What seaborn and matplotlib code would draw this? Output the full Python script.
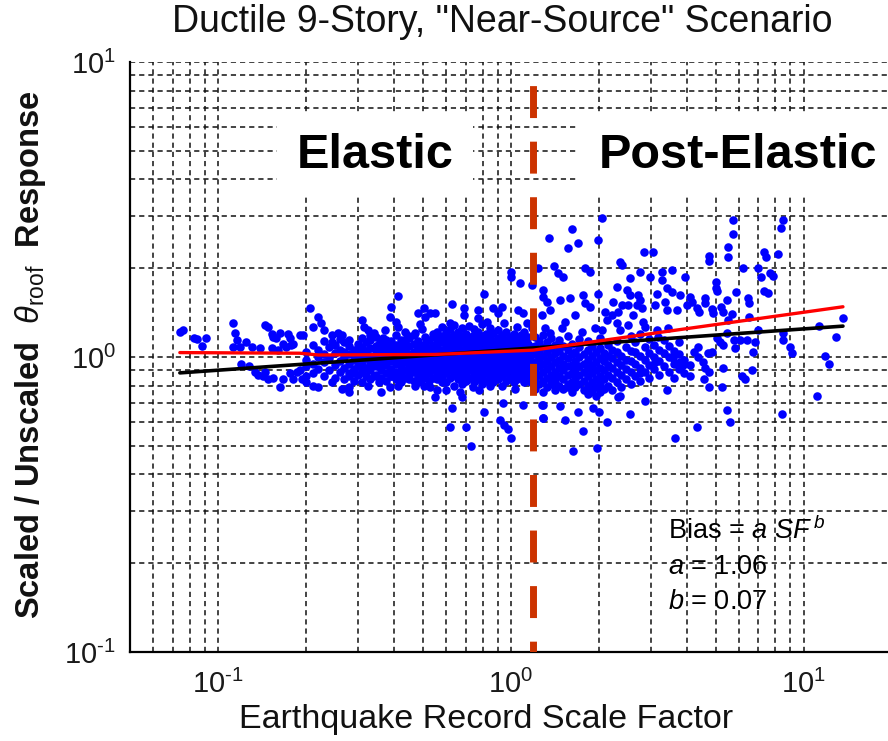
import matplotlib
matplotlib.use("Agg")
import matplotlib.pyplot as plt
from matplotlib.ticker import LogLocator, NullFormatter, FuncFormatter
import numpy as np
import pandas as pd
import seaborn as sns

# (scale factor, scaled/unscaled roof-drift ratio) for records scaled below the yield level
elastic_sparse = [
    (0.074, 1.22), (0.076, 1.23), (0.083, 1.16), (0.085, 1.15), (0.091, 1.16), (0.088, 1.09),
    (0.112, 1.30), (0.114, 1.21), (0.116, 1.14), (0.112, 1.08), (0.119, 1.08), (0.120, 0.95),
    (0.124, 1.12), (0.130, 1.08), (0.127, 0.93), (0.145, 1.28), (0.148, 1.26), (0.139, 1.07),
    (0.153, 1.20), (0.157, 1.16), (0.163, 1.21), (0.167, 1.11), (0.153, 1.07), (0.160, 1.06),
    (0.154, 1.17), (0.170, 1.08), (0.134, 0.89), (0.137, 0.87), (0.142, 0.86), (0.145, 0.89),
    (0.154, 0.85), (0.148, 0.84), (0.163, 0.79), (0.167, 0.84), (0.173, 1.20), (0.176, 1.16),
    (0.178, 1.10), (0.180, 1.11), (0.176, 0.88), (0.180, 0.84), (0.186, 0.89), (0.190, 1.19),
    (0.193, 0.84),
    (0.206, 1.47), (0.219, 1.37), (0.211, 1.26), (0.195, 1.19), (0.225, 1.30), (0.230, 1.23),
    (0.245, 1.19), (0.245, 1.12), (0.256, 1.21), (0.265, 1.19), (0.270, 1.12), (0.310, 1.33),
    (0.315, 1.26), (0.325, 1.23), (0.330, 1.19), (0.340, 1.21), (0.385, 1.37), (0.390, 1.48),
    (0.410, 1.61), (0.405, 1.31), (0.410, 1.26), (0.480, 1.41), (0.505, 1.47), (0.510, 1.37),
    (0.490, 1.29), (0.470, 1.21), (0.440, 1.19), (0.370, 1.23), (0.365, 1.16), (0.375, 1.14),
    (0.355, 1.11), (0.550, 1.17), (0.530, 1.41),
    (0.190, 0.90), (0.200, 0.86), (0.200, 0.82), (0.210, 0.80), (0.220, 0.79), (0.245, 0.82),
    (0.265, 0.78), (0.280, 0.76), (0.280, 0.79), (0.280, 0.86), (0.290, 0.88), (0.305, 0.95),
    (0.310, 0.90), (0.325, 0.80), (0.340, 0.86), (0.355, 0.82), (0.360, 0.76), (0.385, 0.79),
    (0.390, 0.86), (0.410, 0.80), (0.420, 0.86), (0.450, 0.84), (0.470, 0.80), (0.480, 0.82),
    (0.505, 0.80), (0.530, 0.79), (0.550, 0.73), (0.560, 0.77), (0.355, 0.95),
    (1.00, 1.94), (1.00, 1.87), (1.07, 1.78), (1.18, 1.75), (0.81, 1.63), (0.63, 1.51),
    (0.69, 1.47), (0.77, 1.44), (0.87, 1.47), (0.93, 1.48), (0.90, 1.41), (1.06, 1.44),
    (1.10, 1.41), (0.55, 1.41), (0.62, 1.30), (0.69, 1.39), (0.77, 1.36), (0.83, 1.31),
    (0.95, 1.30), (1.13, 1.30), (1.18, 1.25),
    (0.58, 0.82), (0.60, 0.77), (0.63, 0.67), (0.62, 0.58), (0.67, 0.76), (0.68, 0.73),
    (0.70, 0.58), (0.73, 0.50), (0.74, 0.79), (0.78, 0.77), (0.81, 0.65), (0.85, 0.80),
    (0.94, 0.70), (0.92, 0.61), (0.95, 0.59), (0.98, 0.57), (1.00, 0.53), (1.10, 0.69),
    (1.11, 0.82), (1.03, 0.78), (0.56, 0.99),
]

# dense band of elastic records around a ratio of one
elastic_core = [
    (0.20, 0.93), (0.20, 0.98), (0.20, 1.04),
    (0.21, 0.88), (0.21, 0.95), (0.21, 1.10),
    (0.22, 0.91), (0.22, 1.00), (0.22, 1.06),
    (0.23, 0.86), (0.23, 0.96), (0.23, 1.02), (0.23, 1.13),
    (0.24, 0.90), (0.24, 0.99), (0.24, 1.08),
    (0.25, 0.85), (0.25, 0.94), (0.25, 1.03), (0.25, 1.10),
    (0.26, 0.89), (0.26, 0.97), (0.26, 1.06), (0.26, 1.15),
    (0.27, 0.84), (0.27, 0.92), (0.27, 1.00), (0.27, 1.04),
    (0.28, 0.88), (0.28, 0.95), (0.28, 1.02), (0.28, 1.09), (0.28, 1.14),
    (0.29, 0.83), (0.29, 0.91), (0.29, 0.98), (0.29, 1.06),
    (0.30, 0.87), (0.30, 0.93), (0.30, 1.00), (0.30, 1.04), (0.30, 1.11),
    (0.31, 0.82), (0.31, 0.89), (0.31, 0.96), (0.31, 1.02), (0.31, 1.08), (0.31, 1.16),
    (0.32, 0.86), (0.32, 0.92), (0.32, 0.99), (0.32, 1.05), (0.32, 1.12),
    (0.33, 0.84), (0.33, 0.90), (0.33, 0.95), (0.33, 1.01), (0.33, 1.07), (0.33, 1.14),
    (0.345, 0.87), (0.345, 0.93), (0.345, 0.98), (0.345, 1.03), (0.345, 1.09), (0.345, 1.17),
    (0.36, 0.85), (0.36, 0.90), (0.36, 0.96), (0.36, 1.00), (0.36, 1.06), (0.36, 1.12),
    (0.375, 0.83), (0.375, 0.88), (0.375, 0.94), (0.375, 0.99), (0.375, 1.04), (0.375, 1.09),
    (0.39, 0.86), (0.39, 0.91), (0.39, 0.97), (0.39, 1.02), (0.39, 1.07), (0.39, 1.13),
    (0.405, 0.84), (0.405, 0.89), (0.405, 0.95), (0.405, 1.00), (0.405, 1.05), (0.405, 1.10), (0.405, 1.19),
    (0.42, 0.82), (0.42, 0.88), (0.42, 0.93), (0.42, 0.98), (0.42, 1.03), (0.42, 1.08), (0.42, 1.14),
    (0.435, 0.85), (0.435, 0.90), (0.435, 0.96), (0.435, 1.01), (0.435, 1.06), (0.435, 1.12), (0.435, 1.22),
    (0.45, 0.87), (0.45, 0.92), (0.45, 0.97), (0.45, 1.02), (0.45, 1.09), (0.45, 1.16),
    (0.465, 0.83), (0.465, 0.89), (0.465, 0.94), (0.465, 0.99), (0.465, 1.04), (0.465, 1.11), (0.465, 1.19),
    (0.48, 0.86), (0.48, 0.91), (0.48, 0.96), (0.48, 1.01), (0.48, 1.07), (0.48, 1.13),
    (0.495, 0.84), (0.495, 0.88), (0.495, 0.93), (0.495, 0.98), (0.495, 1.03), (0.495, 1.09), (0.495, 1.24),
    (0.51, 0.86), (0.51, 0.91), (0.51, 0.95), (0.51, 1.00), (0.51, 1.05), (0.51, 1.11), (0.51, 1.17),
    (0.525, 0.83), (0.525, 0.88), (0.525, 0.93), (0.525, 0.97), (0.525, 1.02), (0.525, 1.07), (0.525, 1.14),
    (0.54, 0.85), (0.54, 0.90), (0.54, 0.95), (0.54, 1.00), (0.54, 1.04), (0.54, 1.10), (0.54, 1.20),
    (0.56, 0.84), (0.56, 0.89), (0.56, 0.94), (0.56, 0.99), (0.56, 1.04), (0.56, 1.09), (0.56, 1.15), (0.56, 1.22),
    (0.58, 0.86), (0.58, 0.91), (0.58, 0.96), (0.58, 1.01), (0.58, 1.06), (0.58, 1.12), (0.58, 1.18), (0.58, 1.26),
    (0.60, 0.82), (0.60, 0.88), (0.60, 0.93), (0.60, 0.98), (0.60, 1.03), (0.60, 1.08), (0.60, 1.14), (0.60, 1.21),
    (0.62, 0.85), (0.62, 0.90), (0.62, 0.95), (0.62, 1.00), (0.62, 1.05), (0.62, 1.11), (0.62, 1.17), (0.62, 1.24),
    (0.64, 0.80), (0.64, 0.87), (0.64, 0.92), (0.64, 0.97), (0.64, 1.02), (0.64, 1.07), (0.64, 1.13), (0.64, 1.19), (0.64, 1.28),
    (0.66, 0.84), (0.66, 0.89), (0.66, 0.94), (0.66, 0.99), (0.66, 1.04), (0.66, 1.10), (0.66, 1.15), (0.66, 1.22),
    (0.68, 0.81), (0.68, 0.86), (0.68, 0.91), (0.68, 0.96), (0.68, 1.01), (0.68, 1.06), (0.68, 1.12), (0.68, 1.18), (0.68, 1.25),
    (0.70, 0.83), (0.70, 0.88), (0.70, 0.93), (0.70, 0.98), (0.70, 1.03), (0.70, 1.08), (0.70, 1.14), (0.70, 1.20),
    (0.72, 0.85), (0.72, 0.90), (0.72, 0.95), (0.72, 1.00), (0.72, 1.05), (0.72, 1.11), (0.72, 1.17), (0.72, 1.27),
    (0.745, 0.82), (0.745, 0.87), (0.745, 0.92), (0.745, 0.97), (0.745, 1.02), (0.745, 1.07), (0.745, 1.13), (0.745, 1.19), (0.745, 1.24),
    (0.77, 0.84), (0.77, 0.89), (0.77, 0.94), (0.77, 0.99), (0.77, 1.04), (0.77, 1.10), (0.77, 1.15), (0.77, 1.22),
    (0.795, 0.81), (0.795, 0.86), (0.795, 0.91), (0.795, 0.96), (0.795, 1.01), (0.795, 1.06), (0.795, 1.12), (0.795, 1.18), (0.795, 1.29),
    (0.82, 0.83), (0.82, 0.88), (0.82, 0.93), (0.82, 0.98), (0.82, 1.03), (0.82, 1.08), (0.82, 1.14), (0.82, 1.20),
    (0.845, 0.85), (0.845, 0.90), (0.845, 0.95), (0.845, 1.00), (0.845, 1.05), (0.845, 1.11), (0.845, 1.17), (0.845, 1.25),
    (0.87, 0.82), (0.87, 0.87), (0.87, 0.92), (0.87, 0.97), (0.87, 1.02), (0.87, 1.07), (0.87, 1.13), (0.87, 1.21),
    (0.90, 0.84), (0.90, 0.89), (0.90, 0.94), (0.90, 0.99), (0.90, 1.04), (0.90, 1.10), (0.90, 1.16), (0.90, 1.23),
    (0.93, 0.80), (0.93, 0.86), (0.93, 0.91), (0.93, 0.96), (0.93, 1.01), (0.93, 1.06), (0.93, 1.12), (0.93, 1.19),
    (0.96, 0.83), (0.96, 0.88), (0.96, 0.93), (0.96, 0.98), (0.96, 1.03), (0.96, 1.08), (0.96, 1.14), (0.96, 1.22),
    (0.99, 0.85), (0.99, 0.90), (0.99, 0.95), (0.99, 1.00), (0.99, 1.05), (0.99, 1.11), (0.99, 1.17),
    (1.02, 0.82), (1.02, 0.87), (1.02, 0.92), (1.02, 0.97), (1.02, 1.02), (1.02, 1.07), (1.02, 1.13), (1.02, 1.20),
    (1.05, 0.84), (1.05, 0.89), (1.05, 0.94), (1.05, 0.99), (1.05, 1.04), (1.05, 1.10), (1.05, 1.16), (1.05, 1.26),
    (1.08, 0.86), (1.08, 0.91), (1.08, 0.96), (1.08, 1.01), (1.08, 1.06), (1.08, 1.12), (1.08, 1.19),
    (1.11, 0.83), (1.11, 0.88), (1.11, 0.93), (1.11, 0.98), (1.11, 1.03), (1.11, 1.08), (1.11, 1.14), (1.11, 1.22),
    (1.14, 0.85), (1.14, 0.90), (1.14, 0.95), (1.14, 1.00), (1.14, 1.05), (1.14, 1.11), (1.14, 1.17),
    (1.17, 0.82), (1.17, 0.87), (1.17, 0.92), (1.17, 0.97), (1.17, 1.02), (1.17, 1.08),
]

# records scaled past the yield level
post_elastic_sparse = [
    (1.24, 2.00), (1.28, 0.69), (1.29, 0.62), (1.29, 1.69), (1.29, 1.60),
    (2.04, 2.96), (1.62, 2.72), (1.35, 2.53), (1.69, 2.43), (1.57, 2.34), (1.98, 2.49),
    (2.36, 2.10), (2.39, 2.05), (2.84, 2.27), (3.05, 2.27), (1.40, 2.03), (1.45, 1.93),
    (1.50, 1.87), (1.79, 2.00), (1.86, 1.94), (2.55, 1.85), (2.76, 1.94), (2.98, 1.87),
    (3.28, 1.94), (3.54, 1.97), (3.28, 1.82), (3.92, 1.87), (2.30, 1.73), (2.49, 1.69),
    (1.76, 1.62), (1.98, 1.63), (2.55, 1.62), (2.71, 1.62), (3.15, 1.63),
    (3.41, 1.71), (3.54, 1.66), (3.77, 1.62), (1.33, 1.54), (1.47, 1.56), (1.59, 1.59),
    (1.79, 1.52), (1.86, 1.48), (2.23, 1.54), (2.39, 1.50), (2.50, 1.50), (2.76, 1.56),
    (2.69, 1.50), (2.80, 1.47), (3.10, 1.50), (3.35, 1.54), (3.41, 1.44), (3.69, 1.44),
    (3.98, 1.50), (1.28, 1.39), (1.36, 1.44), (1.65, 1.39), (2.09, 1.42), (2.21, 1.39),
    (2.32, 1.42), (2.61, 1.39), (1.53, 1.31), (1.49, 1.25), (1.31, 1.25), (1.36, 1.21),
    (1.75, 1.22), (2.13, 1.33), (2.30, 1.30), (2.36, 1.23), (2.50, 1.28), (2.82, 1.31),
    (2.87, 1.26), (3.15, 1.23), (3.18, 1.17), (3.44, 1.25), (1.94, 1.25), (2.04, 1.23),
    (1.29, 0.69), (1.29, 0.62), (1.47, 0.68), (1.53, 0.61), (1.69, 0.65), (1.76, 0.56),
    (1.63, 0.48), (1.90, 0.67), (1.99, 0.65), (1.96, 0.49), (2.13, 0.60), (2.32, 0.73),
    (2.36, 0.74), (2.55, 0.64), (2.87, 0.71), (3.41, 0.77), (3.63, 0.53), (1.86, 0.76),
    (1.57, 0.79), (1.39, 0.85), (2.76, 0.88), (3.10, 0.96), (3.57, 0.99), (3.77, 0.96),
    (3.86, 0.94),
    (5.72, 2.91), (8.48, 2.91), (8.35, 2.74), (5.72, 2.61), (5.50, 2.36), (5.50, 2.18),
    (4.74, 2.20), (4.74, 2.11), (7.30, 2.27), (7.43, 2.18), (8.15, 2.23), (6.18, 2.00),
    (6.97, 2.00), (7.14, 1.87), (7.65, 1.93), (7.82, 1.88), (5.00, 1.80), (5.03, 1.71),
    (5.07, 1.67), (5.86, 1.66), (7.30, 1.67), (7.54, 1.65), (4.08, 1.60), (4.14, 1.54),
    (4.59, 1.58), (4.59, 1.52), (5.45, 1.56), (6.43, 1.58), (6.52, 1.52), (4.31, 1.47),
    (4.39, 1.42), (4.85, 1.45), (4.89, 1.41), (5.20, 1.48), (5.29, 1.42), (5.67, 1.40),
    (5.50, 1.33), (6.52, 1.37), (13.6, 1.36), (11.3, 1.27), (12.9, 1.17), (5.07, 1.16),
    (5.17, 1.12), (5.45, 1.21), (5.77, 1.14), (5.81, 1.07), (6.04, 1.14), (6.38, 1.14),
    (6.79, 1.12), (6.97, 1.23), (6.70, 1.04), (5.29, 1.10), (4.85, 1.04), (4.69, 1.03),
    (8.48, 1.21), (8.48, 1.14), (9.00, 1.08), (9.08, 1.03), (11.8, 1.01), (12.2, 0.95),
    (4.35, 1.08), (4.21, 1.04), (4.35, 1.00), (4.08, 0.94), (4.53, 0.96), (4.59, 0.92),
    (4.74, 0.89), (4.08, 0.86), (4.56, 0.84), (5.29, 0.92), (6.13, 0.86), (6.28, 0.84),
    (6.65, 0.90), (5.25, 0.79), (4.74, 0.79), (11.1, 0.74), (5.45, 0.66), (8.42, 0.64),
    (5.59, 0.60), (4.31, 0.58),
]

# dense band of post-elastic records just above the yield scale factor
post_elastic_core = [
    (1.21, 0.78), (1.21, 0.84), (1.21, 0.90), (1.21, 0.96), (1.21, 1.02), (1.21, 1.09), (1.21, 1.17),
    (1.25, 0.81), (1.25, 0.87), (1.25, 0.93), (1.25, 0.99), (1.25, 1.05), (1.25, 1.13),
    (1.29, 0.76), (1.29, 0.83), (1.29, 0.89), (1.29, 0.95), (1.29, 1.01), (1.29, 1.08), (1.29, 1.19),
    (1.33, 0.79), (1.33, 0.85), (1.33, 0.91), (1.33, 0.97), (1.33, 1.04), (1.33, 1.12),
    (1.37, 0.81), (1.37, 0.87), (1.37, 0.93), (1.37, 1.00), (1.37, 1.07), (1.37, 1.16),
    (1.41, 0.77), (1.41, 0.83), (1.41, 0.89), (1.41, 0.96), (1.41, 1.03), (1.41, 1.10),
    (1.46, 0.80), (1.46, 0.86), (1.46, 0.92), (1.46, 0.98), (1.46, 1.05), (1.46, 1.14),
    (1.51, 0.78), (1.51, 0.84), (1.51, 0.90), (1.51, 0.95), (1.51, 1.01), (1.51, 1.09),
    (1.56, 0.81), (1.56, 0.87), (1.56, 0.93), (1.56, 0.99), (1.56, 1.06), (1.56, 1.18),
    (1.61, 0.76), (1.61, 0.82), (1.61, 0.88), (1.61, 0.94), (1.61, 1.02), (1.61, 1.11),
    (1.66, 0.79), (1.66, 0.85), (1.66, 0.91), (1.66, 0.97), (1.66, 1.04),
    (1.71, 0.81), (1.71, 0.87), (1.71, 0.93), (1.71, 1.00), (1.71, 1.08), (1.71, 1.15),
    (1.77, 0.77), (1.77, 0.83), (1.77, 0.89), (1.77, 0.95), (1.77, 1.02),
    (1.83, 0.75), (1.83, 0.80), (1.83, 0.86), (1.83, 0.92), (1.83, 0.98), (1.83, 1.06), (1.83, 1.13),
    (1.89, 0.77), (1.89, 0.82), (1.89, 0.88), (1.89, 0.94), (1.89, 1.01), (1.89, 1.09),
    (1.95, 0.74), (1.95, 0.79), (1.95, 0.84), (1.95, 0.90), (1.95, 0.96), (1.95, 1.04),
    (2.01, 0.76), (2.01, 0.81), (2.01, 0.86), (2.01, 0.92), (2.01, 0.99), (2.01, 1.07), (2.01, 1.16),
    (2.08, 0.78), (2.08, 0.84), (2.08, 0.90), (2.08, 0.97), (2.08, 1.03),
    (2.15, 0.80), (2.15, 0.87), (2.15, 0.94), (2.15, 1.01), (2.15, 1.10),
    (2.22, 0.77), (2.22, 0.85), (2.22, 0.92), (2.22, 0.99), (2.22, 1.06),
    (2.30, 0.82), (2.30, 0.89), (2.30, 0.96), (2.30, 1.04), (2.30, 1.13),
    (2.38, 0.79), (2.38, 0.87), (2.38, 0.94), (2.38, 1.01),
    (2.47, 0.84), (2.47, 0.91), (2.47, 0.98), (2.47, 1.08),
    (2.56, 0.81), (2.56, 0.89), (2.56, 0.97), (2.56, 1.05), (2.56, 1.18),
    (2.65, 0.86), (2.65, 0.95), (2.65, 1.04), (2.65, 1.12),
    (2.75, 0.83), (2.75, 0.92), (2.75, 1.01), (2.75, 1.20),
    (2.86, 0.89), (2.86, 0.98), (2.86, 1.08),
    (2.97, 0.85), (2.97, 0.94), (2.97, 1.03), (2.97, 1.15),
    (3.09, 0.91), (3.09, 1.00), (3.09, 1.10),
    (3.21, 0.87), (3.21, 0.97), (3.21, 1.06),
    (3.34, 0.93), (3.34, 1.03), (3.34, 1.14),
    (3.47, 0.89), (3.47, 1.00), (3.47, 1.09),
    (3.61, 0.85), (3.61, 0.95), (3.61, 1.05),
    (3.76, 0.91), (3.76, 1.02), (3.76, 1.12),
    (3.91, 0.88), (3.91, 0.98),
]

# binned bias trend (red) and power-law fit  Bias = a * SF^b  (black)
trend_sf = [0.074, 0.19, 0.22, 0.55, 1.19, 13.6]
trend_bias = [1.035, 1.030, 1.016, 1.020, 1.055, 1.480]
fit_a = 1.06
fit_b = 0.07
fit_sf = [0.074, 0.2, 0.5, 1.0, 2.0, 5.0, 13.6]
yield_sf = 1.19

sns.set_style("white")
plt.rcParams["font.family"] = ["Liberation Sans", "DejaVu Sans"]
plt.rcParams["mathtext.fontset"] = "custom"
plt.rcParams["mathtext.rm"] = "Liberation Sans"
plt.rcParams["mathtext.it"] = "Liberation Sans:italic"
plt.rcParams["mathtext.bf"] = "Liberation Sans:bold"
plt.rcParams["axes.unicode_minus"] = False

records = pd.DataFrame(elastic_sparse + elastic_core + post_elastic_sparse + post_elastic_core,
                       columns=["sf", "ratio"])
trend = pd.DataFrame({"sf": trend_sf, "bias": trend_bias})
fit = pd.DataFrame({"sf": fit_sf, "bias": [fit_a * s ** fit_b for s in fit_sf]})

fig = plt.figure(figsize=(8.88, 7.41), dpi=100)
ax = fig.add_axes([130 / 888, 89 / 741, 762 / 888, 590 / 741])
ax.set_xscale("log")
ax.set_yscale("log")
ax.set_xlim(0.05, 20)
ax.set_ylim(0.1, 10)

grid_style = dict(color="#111111", linestyle=(0, (3.4, 2.6)), linewidth=1.1)
ax.grid(True, which="both", **grid_style)
ax.set_axisbelow(True)

sns.scatterplot(data=records, x="sf", y="ratio", ax=ax, color="#0000FF", s=38,
                linewidth=0, zorder=3, legend=False)
sns.lineplot(data=fit, x="sf", y="bias", ax=ax, color="black", linewidth=2.6,
             sort=False, estimator=None, zorder=4)
sns.lineplot(data=trend, x="sf", y="bias", ax=ax, color="#FF0000", linewidth=2.4,
             sort=False, estimator=None, zorder=5)
ax.plot([yield_sf, yield_sf], [10, 0.1], color="#CC3300", linewidth=5.0,
        linestyle=(4.6, (4.6, 3.4)), zorder=6, solid_capstyle="butt")


def decade_label(value, pos):
    exponent = int(round(np.log10(value)))
    sign = r"\text{-}" if exponent < 0 else ""
    return r"$\mathdefault{10^{%s%d}}$" % (sign, abs(exponent))


ax.xaxis.set_major_locator(LogLocator(base=10))
ax.xaxis.set_minor_locator(LogLocator(base=10, subs=range(2, 10)))
ax.yaxis.set_major_locator(LogLocator(base=10))
ax.yaxis.set_minor_locator(LogLocator(base=10, subs=range(2, 10)))
ax.xaxis.set_major_formatter(FuncFormatter(decade_label))
ax.yaxis.set_major_formatter(FuncFormatter(decade_label))
ax.xaxis.set_minor_formatter(NullFormatter())
ax.yaxis.set_minor_formatter(NullFormatter())
ax.tick_params(which="both", direction="in", top=False, right=False, color="black")
ax.tick_params(which="major", length=7, width=1.2, labelsize=21, labelcolor="#1a1a1a")
ax.tick_params(axis="y", which="major", pad=10)
ax.tick_params(axis="x", which="major", pad=13)
ax.tick_params(which="minor", length=4, width=1.0)

for side in ("top", "right"):
    ax.spines[side].set_visible(False)
for side in ("left", "bottom"):
    ax.spines[side].set_color("black")
    ax.spines[side].set_linewidth(1.6)

ax.set_xlabel("Earthquake Record Scale Factor", fontsize=24.5, color="#111111")
ax.xaxis.label.set_va("center")
ax.xaxis.set_label_coords(0.467, -0.115)
ax.set_ylabel(r"Scaled / Unscaled  $\theta_{\rm roof}$  Response", fontsize=23.5,
              fontweight="bold", color="#111111")
ax.yaxis.label.set_va("center")
ax.yaxis.set_label_coords(-0.131, 0.503)

fig.text(502 / 888, 1 - 22 / 741, 'Ductile 9-Story, "Near-Source" Scenario',
         ha="center", va="center", fontsize=27, color="#111111")

box = dict(facecolor="white", edgecolor="none", pad=14)
ax.text(0.3215, 0.842, "Elastic", transform=ax.transAxes, ha="center", va="center",
        fontsize=35, fontweight="bold", color="black", bbox=box, zorder=7)
ax.text(0.798, 0.842, "Post-Elastic", transform=ax.transAxes, ha="center", va="center",
        fontsize=35, fontweight="bold", color="black", bbox=box, zorder=7)

note_x = (668 - 130) / 762
ax.text(note_x, (652 - 531) / 590, r"Bias = $a\ SF^{\,b}$", transform=ax.transAxes,
        ha="left", va="center", fontsize=19.5, color="black", zorder=7)
ax.text(note_x, (652 - 567) / 590, r"$a$ = 1.06", transform=ax.transAxes,
        ha="left", va="center", fontsize=19.5, color="black", zorder=7)
ax.text(note_x, (652 - 602) / 590, r"$b$ = 0.07", transform=ax.transAxes,
        ha="left", va="center", fontsize=19.5, color="black", zorder=7)

fig.savefig("out.png", dpi=100)
